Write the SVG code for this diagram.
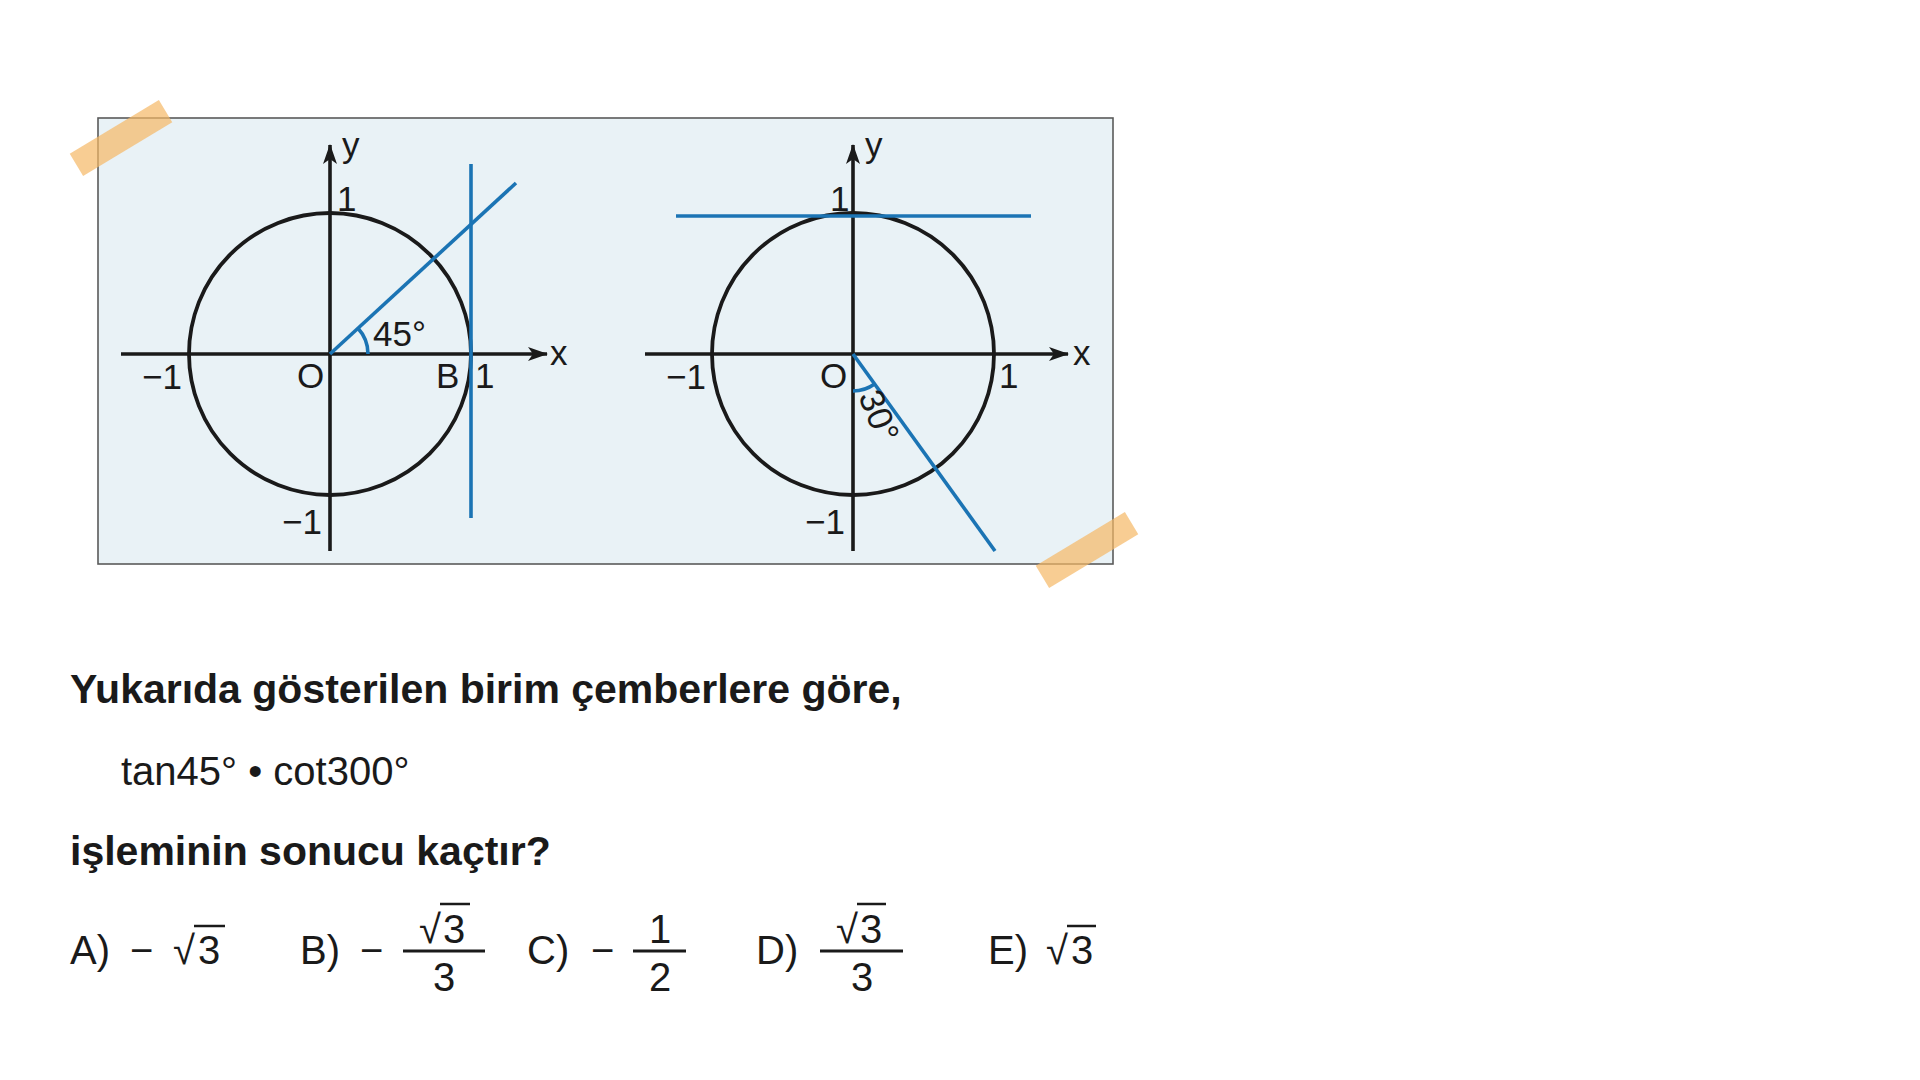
<svg xmlns="http://www.w3.org/2000/svg" width="1920" height="1080" viewBox="0 0 1920 1080">
<defs>
<marker id="arr" viewBox="0 0 20 14" refX="19" refY="7" markerWidth="20" markerHeight="14" markerUnits="userSpaceOnUse" orient="auto">
<path d="M0,0 L20,7 L0,14 L5,7 Z" fill="#1a1a1a"/>
</marker>
</defs>
<style>
.ax{stroke:#1a1a1a;stroke-width:3.6;fill:none}
.circ{stroke:#1a1a1a;stroke-width:3.8;fill:none}
.bl{stroke:#1b74b4;stroke-width:3.6;fill:none}
.lb{font-family:"Liberation Sans",Arial,sans-serif;font-size:35px;fill:#1a1a1a}
.q{font-family:"Liberation Sans",Arial,sans-serif;font-size:41px;fill:#1a1a1a;font-weight:bold}
.t{font-family:"Liberation Sans",Arial,sans-serif;font-size:40px;fill:#1a1a1a}
.tape{fill:#f5b865;opacity:0.7}
.vin{stroke:#1a1a1a;stroke-width:2.5}
.bar{stroke:#1a1a1a;stroke-width:2.8}
</style>
<rect width="1920" height="1080" fill="#ffffff"/>
<g id="panel">
<rect x="98" y="118" width="1015" height="446" fill="#e9f2f6" stroke="#5a5a5a" stroke-width="1.6"/>
</g>
<g id="circle-left">
<circle cx="330" cy="354" r="141" class="circ"/>
<line x1="121" y1="354" x2="547" y2="354" class="ax" marker-end="url(#arr)"/>
<line x1="330" y1="551" x2="330" y2="145" class="ax" marker-end="url(#arr)"/>
<line x1="471" y1="164" x2="471" y2="518" class="bl"/>
<line x1="330" y1="354" x2="516" y2="183" class="bl"/>
<path d="M368,354 A38,38 0 0 0 358,328.3" class="bl"/>
<text x="342" y="157" class="lb" font-size="36">y</text>
<text x="337" y="211" class="lb">1</text>
<text x="550" y="365" class="lb" font-size="36">x</text>
<text x="142" y="389" class="lb">−1</text>
<text x="297" y="388" class="lb">O</text>
<text x="436" y="388" class="lb">B</text>
<text x="475" y="388" class="lb">1</text>
<text x="282" y="534" class="lb">−1</text>
<text x="373" y="346" class="lb" font-size="36">45°</text>
</g>
<g id="circle-right">
<circle cx="853" cy="354" r="141" class="circ"/>
<line x1="645" y1="354" x2="1068" y2="354" class="ax" marker-end="url(#arr)"/>
<line x1="853" y1="551" x2="853" y2="145" class="ax" marker-end="url(#arr)"/>
<line x1="676" y1="216" x2="1031" y2="216" class="bl"/>
<line x1="853" y1="354" x2="995" y2="551" class="bl"/>
<path d="M853,391 A37,37 0 0 0 874.6,384" class="bl"/>
<text x="865" y="157" class="lb" font-size="36">y</text>
<text x="830" y="211" class="lb">1</text>
<text x="1073" y="365" class="lb" font-size="36">x</text>
<text x="666" y="389" class="lb">−1</text>
<text x="820" y="388" class="lb">O</text>
<text x="999" y="388" class="lb">1</text>
<text x="805" y="534" class="lb">−1</text>
<text x="0" y="0" class="lb" font-size="37" transform="translate(858,396) rotate(68)">30°</text>
</g>
<g id="tapes">
<rect x="-52" y="-13" width="104" height="26" class="tape" transform="translate(121,138) rotate(-31)"/>
<rect x="-52" y="-13" width="104" height="26" class="tape" transform="translate(1087,550) rotate(-31)"/>
</g>
<g id="question">
<text x="70" y="703" class="q">Yukarıda gösterilen birim çemberlere göre,</text>
<text x="121" y="785" class="t">tan45° • cot300°</text>
<text x="70" y="865" class="q">işleminin sonucu kaçtır?</text>
</g>
<g id="choices">
<text x="70" y="964" class="t">A)</text>
<text x="130" y="964" class="t">−</text>
<text x="173" y="964" class="t">√</text>
<line x1="194" y1="926" x2="225" y2="926" class="vin"/>
<text x="198" y="964" class="t">3</text>

<text x="300" y="964" class="t">B)</text>
<text x="360" y="964" class="t">−</text>
<line x1="403" y1="951" x2="485" y2="951" class="bar"/>
<text x="419" y="943" class="t">√</text>
<line x1="440" y1="904" x2="470" y2="904" class="vin"/>
<text x="443" y="943" class="t">3</text>
<text x="433" y="991" class="t">3</text>

<text x="527" y="964" class="t">C)</text>
<text x="591" y="964" class="t">−</text>
<line x1="633" y1="951" x2="686" y2="951" class="bar"/>
<text x="660" y="943" class="t" text-anchor="middle">1</text>
<text x="660" y="991" class="t" text-anchor="middle">2</text>

<text x="756" y="964" class="t">D)</text>
<line x1="820" y1="951" x2="903" y2="951" class="bar"/>
<text x="836" y="943" class="t">√</text>
<line x1="857" y1="904" x2="886" y2="904" class="vin"/>
<text x="860" y="943" class="t">3</text>
<text x="862" y="991" class="t" text-anchor="middle">3</text>

<text x="988" y="964" class="t">E)</text>
<text x="1046" y="964" class="t">√</text>
<line x1="1067" y1="926" x2="1096" y2="926" class="vin"/>
<text x="1071" y="964" class="t">3</text>
</g>
</svg>
